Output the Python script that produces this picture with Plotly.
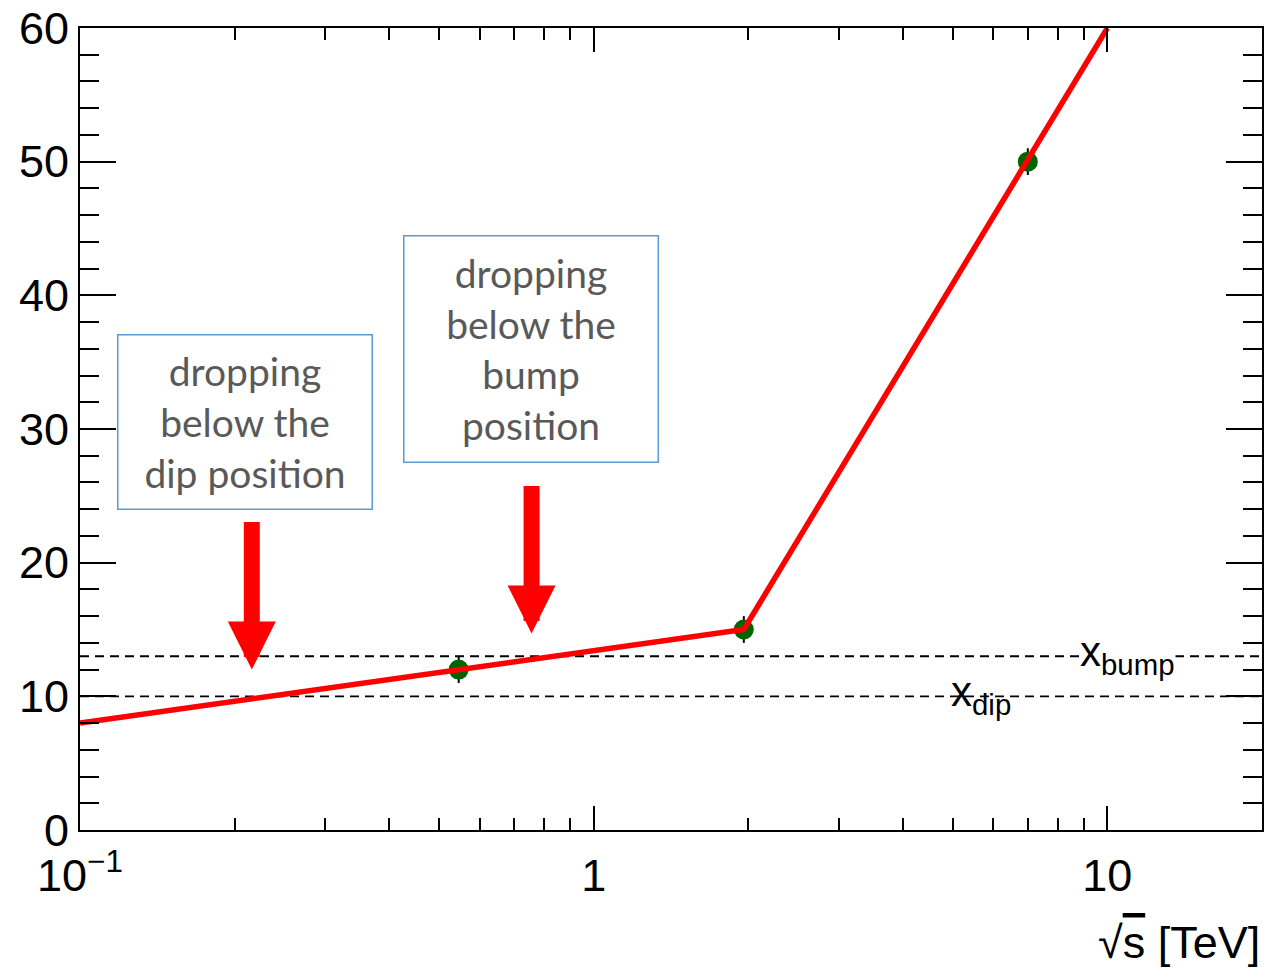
import math
import plotly.graph_objects as go

# ---- data ----
pts_x = [0.546, 1.96, 7.0]
pts_y = [12, 15, 50]
pts_err = [1, 1, 1]

fit_x = [0.1, 1.96, 10.0]
fit_y = [8, 15, 60]

bump_level = 13
dip_level = 10
line_x = [0.1, 20.0]

x_tickvals = [0.1, 1, 10]
x_ticktext = ["10<sup>\u22121</sup>", "1", "10"]
x_minor = [m * d for d in (0.1, 1, 10) for m in range(2, 10)] + [20]
y_tickvals = [0, 10, 20, 30, 40, 50, 60]

box_texts = ["dropping<br>below the<br>dip position",
             "dropping<br>below the<br>bump<br>position"]
box_x = [0.2095, 0.755]
box_y = [30.5, 36.0]

arrow_x = [0.216, 0.757]
arrow_y = [12.0, 14.7]

fig = go.Figure()

fig.add_trace(go.Scatter(
    x=line_x, y=[bump_level] * 2, mode="lines",
    line=dict(color="black", width=1.8, dash="9px,6px"), hoverinfo="skip"))
fig.add_trace(go.Scatter(
    x=line_x, y=[dip_level] * 2, mode="lines",
    line=dict(color="black", width=1.8, dash="9px,6px"), hoverinfo="skip"))

fig.add_trace(go.Scatter(
    x=pts_x, y=pts_y, mode="markers",
    marker=dict(color="#006400", size=20),
    error_y=dict(type="data", array=pts_err, color="black", thickness=2, width=0)))

fig.add_trace(go.Scatter(
    x=fit_x, y=fit_y, mode="lines",
    line=dict(color="#ff0000", width=5.5)))

annotations = []
for t, bx, by in zip(box_texts, box_x, box_y):
    annotations.append(dict(
        x=math.log10(bx), y=by, xref="x", yref="y", text=t, showarrow=False,
        font=dict(family="Lato", size=39, color="#595959"),
        bgcolor="white", bordercolor="#5b9bd5", borderwidth=1.5, borderpad=0,
        width=253, height=173 if "dip" in t else 225, align="center"))

for ax_, ay_ in zip(arrow_x, arrow_y):
    annotations.append(dict(
        x=math.log10(ax_), y=ay_, xref="x", yref="y", text="",
        showarrow=True, arrowhead=2, arrowsize=0.6, arrowwidth=16,
        arrowcolor="#ff0000", ax=0, ay=-149, standoff=0))

annotations.append(dict(
    x=math.log10(8.8), y=bump_level, xref="x", yref="y",
    text="x<sub>bump</sub>", showarrow=False, xanchor="left", yanchor="middle",
    font=dict(family="Liberation Sans", size=42, color="black"),
    bgcolor="white", borderpad=0, yshift=2))
annotations.append(dict(
    x=math.log10(4.95), y=dip_level, xref="x", yref="y",
    text="x<sub>dip</sub>", showarrow=False, xanchor="left", yanchor="middle",
    font=dict(family="Liberation Sans", size=42, color="black"),
    borderpad=0, yshift=2))

annotations.append(dict(
    x=1, y=-0.14, xref="paper", yref="paper", xanchor="right", yanchor="middle",
    text="\u221a<span style='text-decoration:overline'>s</span> [TeV]",
    showarrow=False, font=dict(family="Liberation Sans", size=45, color="black")))

fig.update_layout(
    width=1273, height=968,
    margin=dict(l=80, r=11, t=28, b=138, autoexpand=False),
    plot_bgcolor="white", paper_bgcolor="white",
    showlegend=False,
    annotations=annotations,
    font=dict(family="Liberation Sans", size=45, color="black"),
)

fig.update_xaxes(
    type="log", range=[-1, math.log10(20)], automargin=False,
    tickmode="array", tickvals=x_tickvals, ticktext=x_ticktext,
    ticks="inside", ticklen=24, tickwidth=2, tickcolor="black",
    ticklabelstandoff=5,
    showline=True, linecolor="black", linewidth=2, mirror="allticks",
    showgrid=False, zeroline=False,
    tickfont=dict(family="Liberation Sans", size=45, color="black"),
    minor=dict(tickmode="array", tickvals=x_minor, ticks="inside",
               ticklen=12, tickwidth=2, tickcolor="black", showgrid=False),
)
fig.update_yaxes(
    range=[0, 60], automargin=False,
    tickmode="array", tickvals=y_tickvals,
    ticks="inside", ticklen=36, tickwidth=2, tickcolor="black",
    showline=True, linecolor="black", linewidth=2, mirror="allticks",
    showgrid=False, zeroline=False,
    tickfont=dict(family="Liberation Sans", size=45, color="black"),
    minor=dict(dtick=2, ticks="inside", ticklen=19, tickwidth=2,
               tickcolor="black", showgrid=False),
)

fig.write_html(
    "out.html",
    config={"displayModeBar": False},
    post_script="document.body.style.margin='0';document.body.style.overflow='hidden';",
)
